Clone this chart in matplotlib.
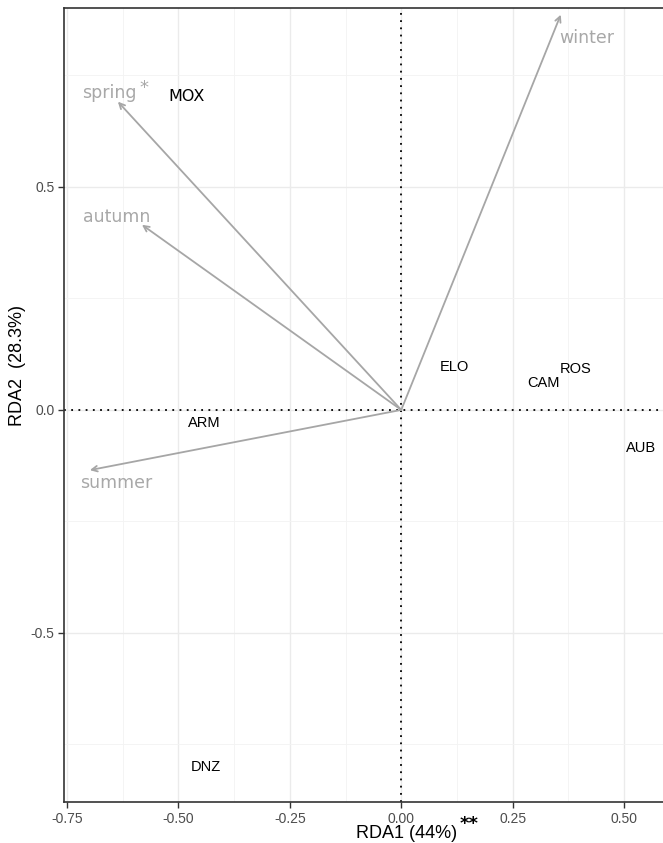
import matplotlib
matplotlib.use("Agg")
import matplotlib.pyplot as plt
import numpy as np

# Site scores
sites = ["MOX", "ELO", "ROS", "CAM", "AUB", "ARM", "DNZ"]
site_x = [-0.483, 0.120, 0.392, 0.319, 0.538, -0.443, -0.438]
site_y = [0.702, 0.096, 0.092, 0.061, -0.085, -0.029, -0.800]

# Environmental vectors (seasons)
seasons = ["winter", "spring", "autumn", "summer"]
arrow_x = [0.358, -0.636, -0.582, -0.699]
arrow_y = [0.886, 0.691, 0.415, -0.135]
label_x = [0.417, -0.656, -0.639, -0.640]
label_y = [0.834, 0.711, 0.433, -0.164]

xticks = [-0.75, -0.50, -0.25, 0.00, 0.25, 0.50]
xticklabels = ["-0.75", "-0.50", "-0.25", "0.00", "0.25", "0.50"]
yticks = [-0.5, 0.0, 0.5]
yticklabels = ["-0.5", "0.0", "0.5"]

W, H = 663, 843
fig = plt.figure(figsize=(W / 100, H / 100), dpi=100)
ax = fig.add_axes([64 / W, 41 / H, 1 - 64 / W, (802 - 8) / H])
ax.set_xlim(-0.757, 0.5875)
ax.set_ylim(-0.879, 0.901)

# grid
minor_x = [-0.625, -0.375, -0.125, 0.125, 0.375]
minor_y = [-0.75, -0.25, 0.25, 0.75]
for v in xticks:
    ax.axvline(v, color="#ebebeb", lw=1.0, zorder=0)
for v in minor_x:
    ax.axvline(v, color="#f3f3f3", lw=0.6, zorder=0)
for v in yticks:
    ax.axhline(v, color="#ebebeb", lw=1.0, zorder=0)
for v in minor_y:
    ax.axhline(v, color="#f3f3f3", lw=0.6, zorder=0)

ax.axvline(0, color="black", lw=1.3, ls=(0, (1, 3)), zorder=1)
ax.axhline(0, color="black", lw=1.3, ls=(0, (1, 3)), zorder=1)

for ax_, ay_ in zip(arrow_x, arrow_y):
    ax.annotate("", xy=(ax_, ay_), xytext=(0, 0),
                arrowprops=dict(arrowstyle="->", color="#a6a6a6", lw=1.3,
                                shrinkA=0, shrinkB=0, mutation_scale=10),
                zorder=2)
for lab, lx, ly in zip(seasons, label_x, label_y):
    ax.text(lx, ly, lab, color="#a8a8a8", fontsize=12.5, ha="center", va="center",
            family="DejaVu Sans", zorder=3)
# significance star for spring
ax.text(-0.578, 0.722, "*", color="#a8a8a8", fontsize=13, ha="center", va="center",
        family="DejaVu Sans", zorder=3)

for s, x, y in zip(sites, site_x, site_y):
    if s == "MOX":
        ax.text(x, y, s, color="black", fontsize=11.5, ha="center", va="center",
                family="DejaVu Sans", zorder=3)
    else:
        ax.text(x, y, s, color="black", fontsize=10.5, ha="center", va="center",
                family="Liberation Sans", zorder=3)

ax.set_xticks(xticks)
ax.set_xticklabels(xticklabels, family="Liberation Sans", fontsize=10, color="#4d4d4d")
ax.set_yticks(yticks)
ax.set_yticklabels(yticklabels, family="Liberation Sans", fontsize=10, color="#4d4d4d")
ax.tick_params(length=4, width=1, color="#333333", pad=3)

for sp in ["left", "bottom", "top"]:
    ax.spines[sp].set_color("#333333")
    ax.spines[sp].set_linewidth(1.2)
ax.spines["right"].set_visible(False)

# axis titles (placed as in the cropped reference)
fig.text(407 / W, 1 - 834 / H, "RDA1 (44%)", family="Liberation Sans", fontsize=13,
         ha="center", va="center")
fig.text(469 / W, 1 - 824 / H, "**", family="DejaVu Sans", fontsize=13, fontweight="bold",
         ha="center", va="center")
fig.text(18 / W, 1 - 365 / H, "RDA2  (28.3%)", family="Liberation Sans", fontsize=13,
         ha="center", va="center", rotation=90)

fig.savefig("out.png", dpi=100)
